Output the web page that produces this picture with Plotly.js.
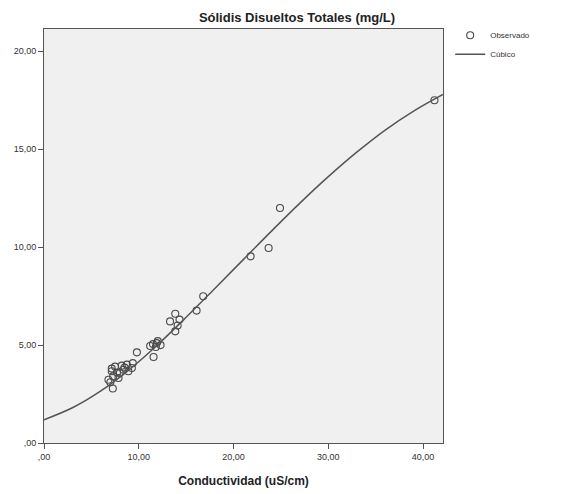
<!DOCTYPE html>
<html>
<head>
<meta charset="utf-8">
<script src="https://cdn.plot.ly/plotly-3.0.1.min.js"></script>
<style>html,body{margin:0;padding:0;background:#fff;}#chart{width:569px;height:494px;}</style>
</head>
<body>
<div id="chart"></div>
<script>
// Observed points (Conductividad vs Sólidos)
const obsX = [7.15, 7.26, 6.8, 7.3, 7.15, 7.5, 7.86, 8.0, 8.2, 8.38, 8.74, 8.9, 9.27, 9.37, 9.8,
              11.2, 11.5, 11.8, 12.0, 12.3, 11.56, 13.3, 13.85, 14.1, 14.3, 13.85, 16.1, 16.8,
              21.8, 23.7, 24.9, 41.2, 7.7, 8.5, 11.9, 7.0];
const obsY = [3.66, 2.78, 3.23, 3.4, 3.8, 3.9, 3.32, 3.57, 3.95, 3.74, 4.0, 3.66, 3.83, 4.08, 4.63,
              4.95, 5.05, 4.9, 5.2, 5.0, 4.39, 6.21, 6.6, 6.0, 6.3, 5.7, 6.76, 7.49,
              9.53, 9.96, 12.0, 17.5, 3.6, 3.85, 5.1, 3.1];
// Cubic fit line
const fitX = [0, 3, 6, 9, 12, 15, 18, 21, 24, 27, 30, 33, 36, 39, 42.1];
const fitY = [1.19, 1.8, 2.66, 3.75, 5.02, 6.42, 7.88, 9.35, 10.82, 12.25, 13.6, 14.85, 15.98, 16.95, 17.8];
// Tick labels
const xTickVals = [0, 10, 20, 30, 40];
const xTickText = [",00", "10,00", "20,00", "30,00", "40,00"];
const yTickVals = [0, 5, 10, 15, 20];
const yTickText = [",00", "5,00", "10,00", "15,00", "20,00"];

const traces = [
  {x: obsX, y: obsY, type: 'scatter', mode: 'markers', name: 'Observado',
   marker: {symbol: 'circle-open', size: 7, color: '#4a4a4a', line: {width: 1.1, color: '#4a4a4a'}}},
  {x: fitX, y: fitY, type: 'scatter', mode: 'lines', name: 'Cúbico',
   line: {color: '#555', width: 1.5, shape: 'spline'}}
];

const axisCommon = {
  showgrid: false, zeroline: false, showline: true, mirror: true,
  linecolor: '#555', linewidth: 1, ticks: 'outside', ticklen: 5, tickcolor: '#555',
  tickfont: {family: 'Liberation Sans, Arial, sans-serif', size: 9, color: '#333'},
  tickmode: 'array'
};

const layout = {
  width: 569, height: 494,
  margin: {l: 44, r: 126, t: 29, b: 51},
  paper_bgcolor: '#ffffff', plot_bgcolor: '#f0f0f0',
  font: {family: 'Liberation Sans, Arial, sans-serif'},
  title: {text: '<b>Sólidis Disueltos Totales (mg/L)</b>',
          font: {size: 13, color: '#222'}, x: 0.522, xanchor: 'center',
          y: 0.964, yanchor: 'middle'},
  xaxis: Object.assign({}, axisCommon, {
    range: [0, 42.1], tickvals: xTickVals, ticktext: xTickText,
    title: {text: '<b>Conductividad (uS/cm)</b>', font: {size: 12, color: '#222'}, standoff: 15}
  }),
  yaxis: Object.assign({}, axisCommon, {
    range: [0, 21.14], tickvals: yTickVals, ticktext: yTickText
  }),
  showlegend: true,
  legend: {x: 1.018, xanchor: 'left', y: 1.02, yanchor: 'top',
           font: {size: 8, color: '#333'}, bgcolor: 'rgba(0,0,0,0)',
           tracegroupgap: 0, itemwidth: 30}
};

Plotly.newPlot('chart', traces, layout, {displayModeBar: false, staticPlot: true});
</script>
</body>
</html>
